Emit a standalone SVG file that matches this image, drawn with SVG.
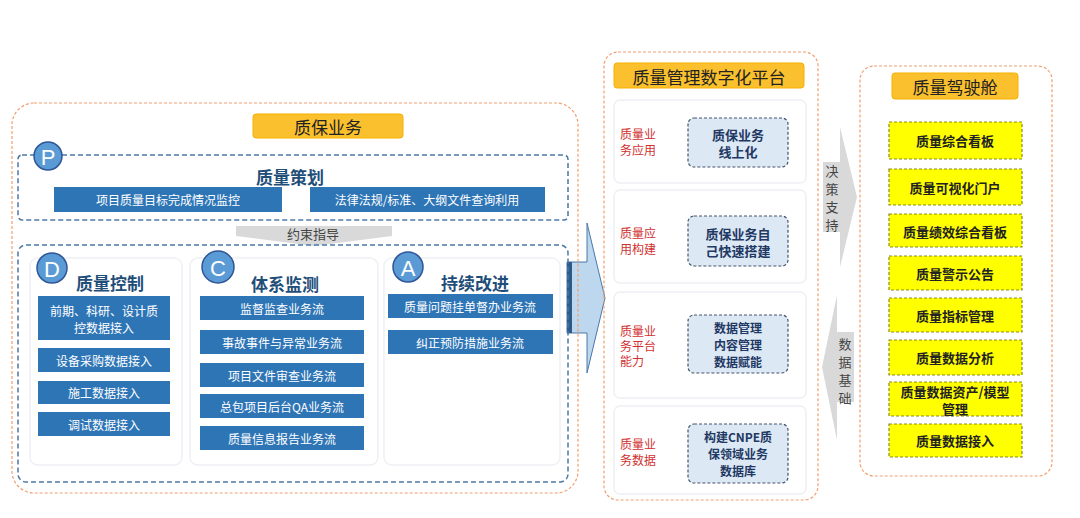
<svg xmlns="http://www.w3.org/2000/svg" width="1080" height="518" viewBox="0 0 1080 518">
<style>
text{font-family:"Noto Sans CJK SC","Liberation Sans",sans-serif;text-anchor:middle;dominant-baseline:central}
.orng{fill:none;stroke:#f0a070;stroke-width:1.2;stroke-dasharray:3 2}
.bdash{fill:none;stroke:#4a78a8;stroke-width:1.5;stroke-dasharray:5 3}
.title{fill:#fbc02d;stroke:#f5b000}
.tt{font-size:17px;fill:#222}
.panel{fill:#fff;stroke:#eef0f4;stroke-width:1.5}
.blue{fill:#2e75b6}
.bt{font-size:12px;fill:#fff}
.circ{fill:#5b9bd5;stroke:#2f5597;stroke-width:1.5}
.ct{font-size:22px;fill:#fff;font-family:"Liberation Sans",sans-serif}
.h{font-size:17px;font-weight:bold;fill:#1f4e79}
.red{font-size:12px;fill:#d03030;text-anchor:start}
.lb{fill:#dce8f4;stroke:#44546a;stroke-width:1.2;stroke-dasharray:3 2}
.lbt{font-size:13px;font-weight:bold;fill:#1f3864}
.sm{font-size:12px}
.yel{fill:#ffff00;stroke:#8a8a20;stroke-width:1.2;stroke-dasharray:3 2}
.yt{font-size:13px;font-weight:bold;fill:#222}
.gray{fill:#d9d9d9}
.gt{font-size:13px;fill:#444}
</style>
<rect width="1080" height="518" fill="#fff"/>
<g id="connectors">
<polygon points="236,226 392,226 392,236 314,246 236,236" class="gray"/>
<text x="313" y="233" class="gt" font-size="11">约束指导</text>
<polygon points="567,262 587,262 587,223 605,298 587,373 587,333 567,333" fill="#bdd7ee" stroke="#4a78a8" stroke-width="1"/>
<rect x="567" y="262" width="5" height="71" fill="#2e5a8a"/>
<polygon points="823,162 840,162 840,127 857,197 840,267 840,232 823,232" class="gray"/>
<text x="832" y="170" class="gt">决</text><text x="832" y="188" class="gt">策</text><text x="832" y="206" class="gt">支</text><text x="832" y="224" class="gt">持</text>
<polygon points="854,332 837,332 837,295 822,367 837,440 837,402 854,402" class="gray"/>
<text x="845" y="343" class="gt">数</text><text x="845" y="361" class="gt">据</text><text x="845" y="379" class="gt">基</text><text x="845" y="397" class="gt">础</text>
</g>
<g id="qa">
<rect x="12" y="103" width="566" height="390" rx="22" class="orng"/>
<rect x="253" y="114" width="150" height="24" rx="3" class="title"/>
<text x="328" y="126" class="tt">质保业务</text>
</g>
<g id="plan">
<rect x="18" y="155" width="550" height="65" rx="4" class="bdash"/>
<circle cx="48" cy="156" r="14" class="circ"/><text x="48" y="157" class="ct">P</text>
<text x="290" y="176" class="h">质量策划</text>
<rect x="54" y="187" width="228" height="25" class="blue"/><text x="168" y="199" class="bt">项目质量目标完成情况监控</text>
<rect x="310" y="187" width="235" height="25" class="blue"/><text x="427" y="199" class="bt">法律法规/标准、大纲文件查询利用</text>
</g>
<rect x="18" y="245" width="550" height="237" rx="8" class="bdash"/>
<g id="do">
<rect x="30" y="258" width="152" height="207" rx="8" class="panel"/>
<circle cx="52" cy="268" r="15" class="circ"/><text x="52" y="269" class="ct">D</text>
<text x="110" y="282" class="h">质量控制</text>
<rect x="38" y="296" width="132" height="44" class="blue"/><text x="104" y="310" class="bt">前期、科研、设计质</text><text x="104" y="327" class="bt">控数据接入</text>
<rect x="38" y="348" width="132" height="24" class="blue"/><text x="104" y="360" class="bt">设备采购数据接入</text>
<rect x="38" y="381" width="132" height="23" class="blue"/><text x="104" y="392" class="bt">施工数据接入</text>
<rect x="38" y="412" width="132" height="24" class="blue"/><text x="104" y="424" class="bt">调试数据接入</text>
</g>
<g id="check">
<rect x="190" y="258" width="188" height="207" rx="8" class="panel"/>
<circle cx="218" cy="267" r="16" class="circ"/><text x="218" y="268" class="ct">C</text>
<text x="285" y="283" class="h">体系监测</text>
<rect x="200" y="296" width="164" height="24" class="blue"/><text x="282" y="308" class="bt">监督监查业务流</text>
<rect x="200" y="330" width="164" height="24" class="blue"/><text x="282" y="342" class="bt">事故事件与异常业务流</text>
<rect x="200" y="363" width="164" height="24" class="blue"/><text x="282" y="375" class="bt">项目文件审查业务流</text>
<rect x="200" y="394" width="164" height="24" class="blue"/><text x="282" y="406" class="bt">总包项目后台QA业务流</text>
<rect x="200" y="426" width="164" height="24" class="blue"/><text x="282" y="438" class="bt">质量信息报告业务流</text>
</g>
<g id="act">
<rect x="384" y="258" width="176" height="207" rx="8" class="panel"/>
<circle cx="408" cy="267" r="15" class="circ"/><text x="408" y="268" class="ct">A</text>
<text x="475" y="282" class="h">持续改进</text>
<rect x="388" y="294" width="165" height="24" class="blue"/><text x="470" y="306" class="bt">质量问题挂单督办业务流</text>
<rect x="388" y="330" width="165" height="24" class="blue"/><text x="470" y="342" class="bt">纠正预防措施业务流</text>
</g>
<g id="platform">
<rect x="604" y="52" width="214" height="448" rx="14" class="orng"/>
<rect x="614" y="63" width="190" height="25" rx="3" class="title"/>
<text x="709" y="76" class="tt">质量管理数字化平台</text>
<rect x="614" y="100" width="192" height="83" rx="6" class="panel"/>
<rect x="614" y="190" width="192" height="93" rx="6" class="panel"/>
<rect x="614" y="292" width="192" height="106" rx="6" class="panel"/>
<rect x="614" y="406" width="192" height="88" rx="6" class="panel"/>
<text x="620" y="133" class="red">质量业</text><text x="620" y="149" class="red">务应用</text>
<text x="620" y="232" class="red">质量应</text><text x="620" y="248" class="red">用构建</text>
<text x="620" y="330" class="red">质量业</text><text x="620" y="345" class="red">务平台</text><text x="620" y="360" class="red">能力</text>
<text x="620" y="443" class="red">质量业</text><text x="620" y="459" class="red">务数据</text>
<rect x="688" y="118" width="100" height="49" rx="6" class="lb"/>
<text x="738" y="134" class="lbt">质保业务</text><text x="738" y="151" class="lbt">线上化</text>
<rect x="688" y="216" width="100" height="50" rx="6" class="lb"/>
<text x="738" y="233" class="lbt">质保业务自</text><text x="738" y="250" class="lbt">己快速搭建</text>
<rect x="688" y="315" width="100" height="58" rx="6" class="lb"/>
<text x="738" y="327" class="lbt sm">数据管理</text><text x="738" y="344" class="lbt sm">内容管理</text><text x="738" y="361" class="lbt sm">数据赋能</text>
<rect x="688" y="424" width="100" height="59" rx="6" class="lb"/>
<text x="738" y="436" class="lbt sm">构建CNPE质</text><text x="738" y="453" class="lbt sm">保领域业务</text><text x="738" y="470" class="lbt sm">数据库</text>
</g>
<g id="cockpit">
<rect x="860" y="66" width="192" height="410" rx="14" class="orng"/>
<rect x="892" y="73" width="126" height="26" rx="3" class="title"/>
<text x="955" y="86" class="tt">质量驾驶舱</text>
<rect x="889" y="122" width="133" height="37" class="yel"/><text x="955" y="140" class="yt">质量综合看板</text>
<rect x="889" y="169" width="133" height="36" class="yel"/><text x="955" y="187" class="yt">质量可视化门户</text>
<rect x="889" y="214" width="133" height="33" class="yel"/><text x="955" y="231" class="yt">质量绩效综合看板</text>
<rect x="889" y="256" width="133" height="34" class="yel"/><text x="955" y="273" class="yt">质量警示公告</text>
<rect x="889" y="298" width="133" height="34" class="yel"/><text x="955" y="315" class="yt">质量指标管理</text>
<rect x="889" y="340" width="133" height="35" class="yel"/><text x="955" y="357" class="yt">质量数据分析</text>
<rect x="889" y="382" width="133" height="34" class="yel"/><text x="955" y="391" class="yt sm">质量数据资产/模型</text><text x="955" y="408" class="yt sm">管理</text>
<rect x="889" y="424" width="133" height="33" class="yel"/><text x="955" y="440" class="yt">质量数据接入</text>
</g>
</svg>
